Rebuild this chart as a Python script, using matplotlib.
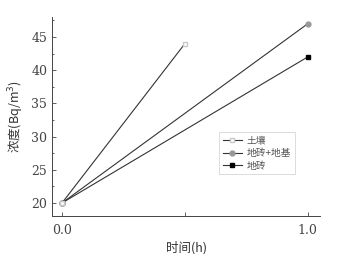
import matplotlib.pyplot as plt
from matplotlib.ticker import MultipleLocator, FixedFormatter

plt.rcParams['font.family'] = ['Noto Sans CJK SC', 'DejaVu Sans']

# data
soil_x = [0.0, 0.5]
soil_y = [20, 44]
brick_base_x = [0.0, 1.0]
brick_base_y = [20, 47]
brick_x = [0.0, 1.0]
brick_y = [20, 42]
labels = ['土壤', '地砖+地基', '地砖']
x_ticks = [0.0, 0.5, 1.0]
x_ticklabels = ['0.0', '', '1.0']  # 0.5 is practically invisible in the reference

fig = plt.figure(figsize=(3.48, 2.54), dpi=100)
ax = fig.add_axes([0.15, 0.15, 0.77, 0.783])

ax.plot(soil_x, soil_y, color='#333333', lw=0.8, marker='s', ms=3.5,
        mfc='white', mec='#c8c8c8', label=labels[0], zorder=4)
ax.plot(brick_base_x, brick_base_y, color='#333333', lw=0.8, marker='o', ms=3.5,
        mfc='#999999', mec='#999999', label=labels[1], zorder=3)
ax.plot(brick_x, brick_y, color='#333333', lw=0.8, marker='s', ms=3.5,
        mfc='black', mec='black', label=labels[2], zorder=2)

ax.set_xlim(-0.04, 1.05)
ax.set_ylim(18.05, 48)
ax.yaxis.set_major_locator(MultipleLocator(5))
ax.yaxis.set_minor_locator(MultipleLocator(2.5))
ax.set_xticks(x_ticks)
ax.xaxis.set_major_formatter(FixedFormatter(x_ticklabels))
ax.tick_params(which='both', direction='in', colors='#444444', labelsize=9,
               width=0.6)
ax.tick_params(which='major', length=3)
ax.tick_params(which='minor', length=1.5)
ax.tick_params(axis='x', pad=6)
for lbl in ax.get_xticklabels() + ax.get_yticklabels():
    lbl.set_family('DejaVu Serif')

ax.spines['top'].set_visible(False)
ax.spines['right'].set_visible(False)
ax.spines['left'].set_linewidth(0.7)
ax.spines['bottom'].set_linewidth(0.7)
ax.spines['left'].set_color('#444444')
ax.spines['bottom'].set_color('#444444')

ax.set_xlabel('时间(h)', fontsize=9, color='#333333', labelpad=3)
ax.set_ylabel('浓度(Bq/m$^3$)', fontsize=9, color='#333333', labelpad=4)

leg = ax.legend(loc='center left', bbox_to_anchor=(0.605, 0.315), fontsize=7,
                frameon=True, fancybox=False, edgecolor='#cccccc',
                handlelength=2.0, borderpad=0.35, labelspacing=0.25,
                handletextpad=0.5)
leg.get_frame().set_linewidth(0.6)
for t in leg.get_texts():
    t.set_color('#555555')

fig.savefig('out.png', dpi=100)
